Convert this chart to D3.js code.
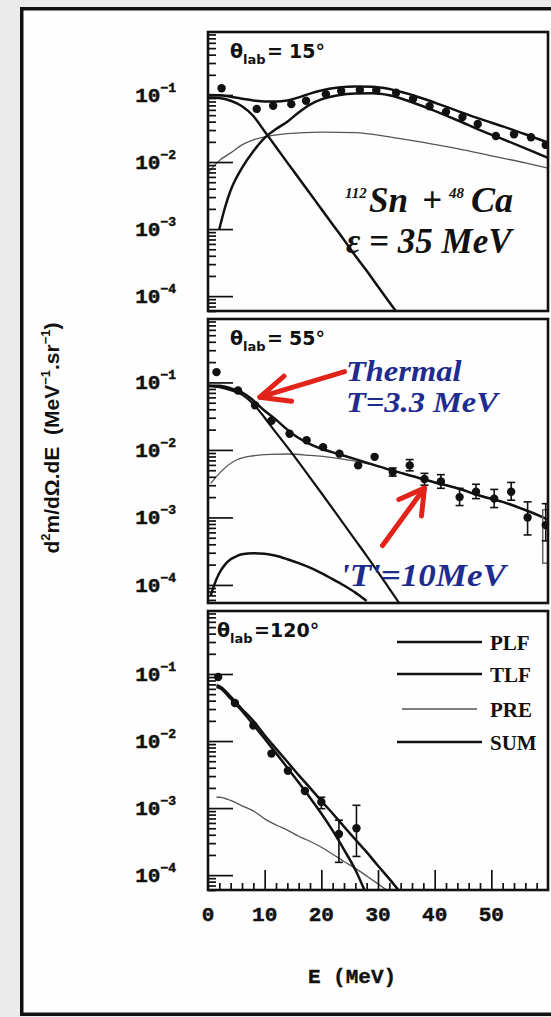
<!DOCTYPE html>
<html>
<head>
<meta charset="utf-8">
<script src="https://cdn.jsdelivr.net/npm/d3@7"></script>
<style>
  html, body { margin: 0; padding: 0; background: #ebebeb; }
  svg { display: block; }
</style>
</head>
<body>
<svg id="chart" width="551" height="1017"></svg>
<script>
// ---------------- data ----------------
const energyTicks = [0, 10, 20, 30, 40, 50];
const decadeTicks = [1e-1, 1e-2, 1e-3, 1e-4];
const decadeExponents = ["\u22121", "\u22122", "\u22123", "\u22124"];
const angleValues = ["15\u00b0", "55\u00b0", "120\u00b0"];
const legendNames = ["PLF", "TLF", "PRE", "SUM"];
const yLow = [6e-5, 5.4e-5, 6e-5];
const yHigh = 0.87;

// theta_lab = 15 deg
const e15 = [2.4, 8.6, 11.5, 14.7, 17.3, 20.8, 23.5, 26.8, 29.7, 33.2, 36.2, 39.1, 42.0, 44.9, 47.6, 50.8, 54.0, 57.0, 59.6];
const y15 = [0.126, 0.062, 0.069, 0.073, 0.082, 0.103, 0.115, 0.119, 0.118, 0.108, 0.088, 0.068, 0.056, 0.047, 0.037, 0.0245, 0.026, 0.0234, 0.018];
const plf15E = [2, 3, 4, 5, 6, 8, 10, 12, 14, 16, 18, 20, 23, 26, 29, 32, 36, 40, 44, 48, 52, 56, 60];
const plf15 = [0.001, 0.0021, 0.0038, 0.0058, 0.0082, 0.0145, 0.023, 0.031, 0.040, 0.055, 0.072, 0.086, 0.099, 0.105, 0.106, 0.099, 0.078, 0.058, 0.042, 0.030, 0.022, 0.016, 0.0115];
const tlf15E = [0, 2, 4, 6, 8, 10, 12, 14, 16, 18, 20, 22, 24, 26, 28, 30, 32, 34];
const tlf15 = [0.092, 0.090, 0.082, 0.068, 0.0486, 0.0286, 0.0168, 0.0098, 0.0058, 0.0034, 0.0020, 0.00117, 0.00069, 0.00040, 0.00024, 0.000139, 0.000081, 0.000048];
const pre15E = [0, 2, 4, 6, 8, 10, 14, 20, 26, 32, 38, 44, 50, 56, 60];
const pre15 = [0.0069, 0.0105, 0.0137, 0.018, 0.0214, 0.0237, 0.0265, 0.028, 0.0275, 0.0238, 0.0196, 0.0158, 0.0124, 0.0097, 0.0081];
const sum15E = [0, 2, 4, 6, 8, 10, 12, 14, 16, 18, 20, 23, 26, 29, 32, 36, 40, 44, 48, 52, 56, 60];
const sum15 = [0.100, 0.099, 0.094, 0.088, 0.083, 0.080, 0.080, 0.083, 0.092, 0.105, 0.117, 0.129, 0.134, 0.133, 0.123, 0.100, 0.077, 0.058, 0.044, 0.034, 0.026, 0.0195];

// theta_lab = 55 deg
const e55 = [1.5, 5.3, 8.3, 11.2, 14.4, 17.4, 20.3, 23.2, 26.5, 29.4, 32.6, 35.6, 38.2, 41.1, 44.4, 47.3, 50.5, 53.5, 56.4, 59.6];
const y55 = [0.142, 0.076, 0.046, 0.027, 0.0174, 0.0139, 0.011, 0.0088, 0.0059, 0.0079, 0.0047, 0.0059, 0.0037, 0.0034, 0.0020, 0.0024, 0.0019, 0.0024, 0.0010, 0.00077];
const err55E = [32.6, 35.6, 38.2, 41.1, 44.4, 47.3, 50.5, 53.5, 56.4, 59.6];
const err55Lo = [0.0041, 0.0049, 0.0030, 0.0027, 0.0015, 0.0019, 0.0014, 0.0018, 0.00055, 0.00045];
const err55Hi = [0.0054, 0.0072, 0.0045, 0.0043, 0.0027, 0.0031, 0.0026, 0.0033, 0.0017, 0.0016];
const sys55 = [59.6, 2.1e-4, 1.3e-3];
const plf55E = [0.5, 1, 2, 3, 4, 5, 6, 8, 10, 12, 14, 16, 18, 20, 22, 24, 26, 28];
const plf55 = [7e-5, 9.5e-5, 1.5e-4, 2.0e-4, 2.4e-4, 2.65e-4, 2.85e-4, 2.95e-4, 2.9e-4, 2.7e-4, 2.4e-4, 2.1e-4, 1.8e-4, 1.5e-4, 1.22e-4, 9.8e-5, 7.7e-5, 5.8e-5];
const tlf55E = [0, 2, 4, 6, 8, 10, 12, 14, 16, 18, 20, 22, 24, 26, 28, 30, 32, 34];
const tlf55 = [0.088, 0.085, 0.077, 0.066, 0.048, 0.030, 0.018, 0.011, 0.0066, 0.0039, 0.0023, 0.00135, 0.00079, 0.00046, 0.00027, 0.000155, 0.000088, 0.00005];
const pre55E = [0.5, 2, 5, 8, 11, 14, 18, 22, 26, 30, 34, 38, 42, 46, 50, 54, 58, 60];
const pre55 = [0.0032, 0.0045, 0.0071, 0.0082, 0.0086, 0.0087, 0.0083, 0.0077, 0.0068, 0.0057, 0.0046, 0.0037, 0.0030, 0.0024, 0.0019, 0.0015, 0.00113, 0.00092];
const sum55E = [0, 2, 4, 6, 8, 10, 12, 14, 16, 18, 20, 23, 26, 29, 32, 36, 40, 44, 48, 52, 56, 60];
const sum55 = [0.090, 0.089, 0.082, 0.071, 0.054, 0.038, 0.028, 0.020, 0.0150, 0.0122, 0.0104, 0.0087, 0.0073, 0.0061, 0.0051, 0.0041, 0.0033, 0.0027, 0.0021, 0.0017, 0.00128, 0.00093];

// theta_lab = 120 deg
const e120 = [1.8, 4.75, 8.0, 11.2, 14.1, 17.1, 20.0, 23.1, 26.2];
const y120 = [0.090, 0.037, 0.017, 0.0065, 0.0036, 0.0018, 0.00123, 0.00041, 0.0005];
const err120E = [20.0, 23.1, 26.2];
const err120Lo = [0.00098, 0.000155, 0.00019];
const err120Hi = [0.00145, 0.00066, 0.0011];
const tlf120E = [1.5, 2, 4, 6, 8, 10, 12, 14, 16, 18, 20, 22, 24, 26, 27.6];
const tlf120 = [0.064, 0.062, 0.043, 0.028, 0.0175, 0.0108, 0.0066, 0.0040, 0.0024, 0.00143, 0.00083, 0.00046, 0.00024, 0.00012, 0.00006];
const pre120E = [1.5, 2, 4, 6, 8, 10, 12, 14, 16, 18, 20, 22, 24, 26, 28, 30, 32];
const pre120 = [0.00145, 0.00145, 0.0013, 0.00108, 0.00091, 0.00069, 0.00056, 0.00047, 0.00038, 0.00032, 0.00026, 0.000205, 0.00016, 0.000126, 0.000097, 0.000074, 0.000056];
const sum120E = [1.5, 2, 4, 6, 8, 10, 12, 14, 16, 18, 20, 22, 24, 26, 28, 30, 32, 33.6];
const sum120 = [0.068, 0.066, 0.046, 0.030, 0.020, 0.0122, 0.0077, 0.0049, 0.0031, 0.0020, 0.00128, 0.00083, 0.00053, 0.00034, 0.00022, 0.000138, 0.000088, 0.00006];

// ---------------- layout ----------------
const W = 551, H = 1017;
const left = 208, right = 548;
const boxes = [
  { top: 32, bottom: 311 },
  { top: 319, bottom: 603 },
  { top: 611, bottom: 890 }
];
const INK = "#111";
const PRE_INK = "#555";
const BLUE = "#1e2b8f";
const RED = "#e2231a";
const monoFont = "'Liberation Mono', 'Courier New', monospace";
const sansFont = "'Liberation Sans', Arial, sans-serif";
const wideFont = "'DejaVu Sans', Verdana, sans-serif";
const serifFont = "'Liberation Serif', 'Times New Roman', serif";

const svg = d3.select("#chart");

svg.append("rect").attr("width", W).attr("height", H).attr("fill", "#ebebeb");
svg.append("rect")
  .attr("x", 21.75).attr("y", 8.75).attr("width", 620).attr("height", 1005.5)
  .attr("fill", "#fefefe").attr("stroke", INK).attr("stroke-width", 3.5);

const x = d3.scaleLinear().domain([0, 60]).range([left, right]);

const panels = [
  {
    curves: [
      { e: pre15E, v: pre15, color: PRE_INK, w: 1.3 },
      { e: tlf15E, v: tlf15, color: INK, w: 2.5 },
      { e: plf15E, v: plf15, color: INK, w: 2.5 },
      { e: sum15E, v: sum15, color: INK, w: 2.5 }
    ],
    pts: [e15, y15], err: null
  },
  {
    curves: [
      { e: pre55E, v: pre55, color: PRE_INK, w: 1.3 },
      { e: plf55E, v: plf55, color: INK, w: 2.5 },
      { e: tlf55E, v: tlf55, color: INK, w: 2.2 },
      { e: sum55E, v: sum55, color: INK, w: 2.5 }
    ],
    pts: [e55, y55], err: [err55E, err55Lo, err55Hi], sys: sys55
  },
  {
    curves: [
      { e: pre120E, v: pre120, color: PRE_INK, w: 1.3 },
      { e: tlf120E, v: tlf120, color: INK, w: 2.5 },
      { e: sum120E, v: sum120, color: INK, w: 2.5 }
    ],
    pts: [e120, y120], err: [err120E, err120Lo, err120Hi]
  }
];

const yScales = [];

panels.forEach((p, i) => {
  const b = boxes[i];
  const y = d3.scaleLog().domain([yLow[i], yHigh]).range([b.bottom, b.top]);
  yScales.push(y);

  const clipId = "clip" + i;
  svg.append("clipPath").attr("id", clipId)
    .append("rect").attr("x", left).attr("y", b.top)
    .attr("width", right - left).attr("height", b.bottom - b.top);
  const plot = svg.append("g").attr("clip-path", `url(#${clipId})`);

  const line = d3.line()
    .x(d => x(d[0])).y(d => y(d[1]))
    .curve(d3.curveMonotoneX);

  p.curves.forEach(c => {
    plot.append("path")
      .datum(d3.zip(c.e, c.v))
      .attr("d", line)
      .attr("fill", "none")
      .attr("stroke", c.color)
      .attr("stroke-width", c.w)
      .attr("stroke-linejoin", "round");
  });

  if (p.sys) {
    plot.append("rect")
      .attr("x", x(p.sys[0]) - 3).attr("width", 7)
      .attr("y", y(p.sys[2])).attr("height", y(p.sys[1]) - y(p.sys[2]))
      .attr("fill", "none").attr("stroke", "#666").attr("stroke-width", 1.5);
  }

  if (p.err) {
    const eb = d3.zip(p.err[0], p.err[1], p.err[2]);
    const g = plot.append("g").attr("stroke", INK).attr("stroke-width", 1.6);
    g.selectAll("line.v").data(eb).join("line")
      .attr("x1", d => x(d[0])).attr("x2", d => x(d[0]))
      .attr("y1", d => y(d[1])).attr("y2", d => y(d[2]));
    g.selectAll("line.lo").data(eb).join("line")
      .attr("x1", d => x(d[0]) - 4).attr("x2", d => x(d[0]) + 4)
      .attr("y1", d => y(d[1])).attr("y2", d => y(d[1]));
    g.selectAll("line.hi").data(eb).join("line")
      .attr("x1", d => x(d[0]) - 4).attr("x2", d => x(d[0]) + 4)
      .attr("y1", d => y(d[2])).attr("y2", d => y(d[2]));
  }

  plot.append("g").selectAll("circle")
    .data(d3.zip(p.pts[0], p.pts[1]))
    .join("circle")
    .attr("cx", d => x(d[0])).attr("cy", d => y(d[1]))
    .attr("r", 4.2).attr("fill", INK);

  // left axis: log ticks pointing inward
  const minor = [];
  for (let k = -5; k <= 0; k++) for (let m = 2; m <= 9; m++) {
    const v = m * Math.pow(10, k);
    if (v > yLow[i] && v < yHigh) minor.push(v);
  }
  const minorAxis = d3.axisRight(y).tickValues(minor).tickSize(8).tickFormat("");
  const majorAxis = d3.axisRight(y).tickValues(decadeTicks).tickSize(25).tickFormat("");
  [minorAxis, majorAxis].forEach(ax => {
    const ga = svg.append("g").attr("transform", `translate(${left},0)`).call(ax);
    ga.select(".domain").remove();
    ga.selectAll("line").attr("stroke", INK).attr("stroke-width", 1.7);
  });

  // decade labels
  decadeTicks.forEach((v, k) => {
    const t = svg.append("text")
      .attr("x", 176).attr("y", y(v) + 7)
      .attr("text-anchor", "end")
      .attr("font-family", monoFont).attr("font-weight", "bold")
      .attr("font-size", 21).attr("fill", INK)
      .attr("stroke", INK).attr("stroke-width", 0.5);
    t.append("tspan").text("10");
    t.append("tspan").attr("font-size", 13).attr("dy", -10).text(decadeExponents[k]);
  });

  // angle label
  const x0 = i === 2 ? 217 : 230;
  const lab = svg.append("text")
    .attr("y", b.top + 26)
    .attr("font-family", wideFont).attr("font-weight", "bold")
    .attr("font-size", 19).attr("fill", INK);
  lab.append("tspan").attr("x", x0).text("\u03b8");
  lab.append("tspan").attr("x", x0 + 13).attr("font-size", 13).attr("dy", 6).text("lab");
  lab.append("tspan").attr("x", x0 + 37).attr("dy", -6).text("=");
  lab.append("tspan").attr("x", i === 2 ? x0 + 53 : x0 + 59).text(angleValues[i]);
});

// bottom axis of the last panel
const yLast = boxes[2].bottom;
const xMinor = d3.range(2, 60, 2).filter(e => e % 10 !== 0);
[[xMinor, 7], [energyTicks.filter(e => e > 0), 20]].forEach(([vals, size]) => {
  const ga = svg.append("g").attr("transform", `translate(0,${yLast})`)
    .call(d3.axisTop(x).tickValues(vals).tickSize(size).tickFormat(""));
  ga.select(".domain").remove();
  ga.selectAll("line").attr("stroke", INK).attr("stroke-width", 1.7);
});
svg.append("g").selectAll("text").data(energyTicks).join("text")
  .attr("x", d => x(d)).attr("y", 921)
  .attr("text-anchor", "middle")
  .attr("font-family", monoFont).attr("font-weight", "bold")
  .attr("font-size", 21).attr("fill", INK)
  .attr("stroke", INK).attr("stroke-width", 0.5)
  .text(d => d);

svg.append("text")
  .attr("x", 352).attr("y", 983)
  .attr("text-anchor", "middle")
  .attr("font-family", monoFont).attr("font-weight", "bold")
  .attr("font-size", 21).attr("fill", INK)
  .attr("stroke", INK).attr("stroke-width", 0.4)
  .text("E (MeV)");

// y axis title
const yl = svg.append("text")
  .attr("transform", "translate(59,438) rotate(-90)")
  .attr("text-anchor", "middle")
  .attr("font-family", sansFont).attr("font-weight", "bold")
  .attr("font-size", 21).attr("fill", INK);
yl.append("tspan").text("d");
yl.append("tspan").attr("font-size", 13).attr("dy", -9).text("2");
yl.append("tspan").attr("dy", 9).text("m/d\u03a9.dE\u00a0\u00a0(MeV");
yl.append("tspan").attr("font-size", 13).attr("dy", -9).text("\u22121");
yl.append("tspan").attr("dy", 9).text(".sr");
yl.append("tspan").attr("font-size", 13).attr("dy", -9).text("\u22121");
yl.append("tspan").attr("dy", 9).text(")");

// legend (last panel)
const legendY = [642, 674, 709, 742];
legendNames.forEach((name, k) => {
  const isPre = name === "PRE";
  svg.append("line")
    .attr("x1", isPre ? 402 : 397).attr("x2", isPre ? 477 : 482)
    .attr("y1", legendY[k]).attr("y2", legendY[k])
    .attr("stroke", isPre ? PRE_INK : INK)
    .attr("stroke-width", isPre ? 1.3 : 2.5);
  svg.append("text")
    .attr("x", 490).attr("y", legendY[k] + 8)
    .attr("font-family", serifFont).attr("font-weight", "bold")
    .attr("font-size", 21).attr("fill", INK)
    .text(name);
});

// reaction label (first panel)
const rx = svg.append("text")
  .attr("font-family", serifFont).attr("font-weight", "bold").attr("font-style", "italic")
  .attr("fill", INK);
rx.append("tspan").attr("x", 345).attr("y", 198).attr("font-size", 15).text("112");
rx.append("tspan").attr("x", 369).attr("y", 212).attr("font-size", 35).text("Sn");
rx.append("tspan").attr("x", 422).attr("y", 212).attr("font-size", 35).text("+");
rx.append("tspan").attr("x", 449).attr("y", 198).attr("font-size", 15).text("48");
rx.append("tspan").attr("x", 471).attr("y", 212).attr("font-size", 36).text("Ca");
svg.append("text")
  .attr("x", 346).attr("y", 253)
  .attr("font-family", serifFont).attr("font-weight", "bold").attr("font-style", "italic")
  .attr("font-size", 35).attr("fill", INK)
  .text("\u03b5 = 35 MeV");

// temperature annotations (second panel)
const y55s = yScales[1];
const thermal = svg.append("text")
  .attr("transform", "translate(346,0) scale(1.12,1)")
  .attr("font-family", serifFont).attr("font-weight", "bold").attr("font-style", "italic")
  .attr("font-size", 29).attr("fill", BLUE);
thermal.append("tspan").attr("x", 0).attr("y", 381).text("Thermal");
thermal.append("tspan").attr("x", 0).attr("y", 412).text("T=3.3 MeV");
svg.append("text")
  .attr("transform", "translate(340,586) scale(1.13,1)")
  .attr("font-family", serifFont).attr("font-weight", "bold").attr("font-style", "italic")
  .attr("font-size", 31).attr("fill", BLUE).text("'T'=10MeV");

// arrows: [tail E, tail value, tip E, tip value, half-angle, head length]
const arrows = [
  [24.1, 0.145, 9.15, 0.0605, 24, 32],
  [30.8, 3.83e-4, 38.2, 0.00272, 30, 28]
];
arrows.forEach(([e0, v0, e1, v1, ang, len]) => {
  const ax0 = x(e0), ay0 = y55s(v0), ax1 = x(e1), ay1 = y55s(v1);
  const back = Math.atan2(ay0 - ay1, ax0 - ax1);
  const a = ang * Math.PI / 180;
  const p1 = [ax1 + len * Math.cos(back - a), ay1 + len * Math.sin(back - a)];
  const p2 = [ax1 + len * Math.cos(back + a), ay1 + len * Math.sin(back + a)];
  const g = svg.append("g").attr("stroke", RED).attr("stroke-width", 5)
    .attr("stroke-linecap", "round").attr("fill", "none");
  g.append("line").attr("x1", ax0).attr("y1", ay0).attr("x2", ax1).attr("y2", ay1);
  g.append("path").attr("d", `M${p1[0]},${p1[1]}L${ax1},${ay1}L${p2[0]},${p2[1]}`)
    .attr("stroke-linejoin", "round");
});

// panel frames
boxes.forEach(b => {
  svg.append("rect")
    .attr("x", left).attr("y", b.top)
    .attr("width", right - left).attr("height", b.bottom - b.top)
    .attr("fill", "none").attr("stroke", INK).attr("stroke-width", 2.6);
});
</script>
</body>
</html>
